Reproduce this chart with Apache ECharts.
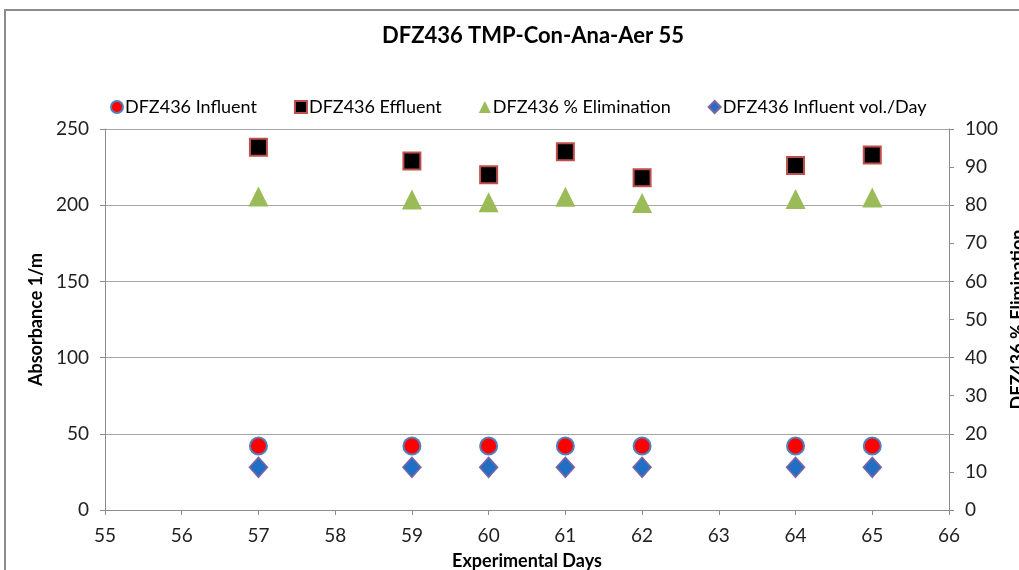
<!DOCTYPE html>
<html>
<head>
<meta charset="utf-8">
<script src="https://cdn.jsdelivr.net/npm/echarts@6.0.0/dist/echarts.min.js"></script>
<style>
  html, body { margin: 0; padding: 0; background: #fff; }
  #chart { width: 1019px; height: 570px; }
</style>
</head>
<body>
<div id="chart"></div>
<script>
(function () {
  'use strict';

  // Experimental days (x values)
  var days = [57, 59, 60, 61, 62, 64, 65];
  // Absorbance 1/m (left axis)
  var influent = [42, 42, 42, 42, 42, 42, 42];
  var effluent = [238, 229, 220, 235, 218, 226, 233];
  var influentVol = [28, 28, 28, 28, 28, 28, 28];
  // % Elimination (right axis)
  var elimination = [82.3, 81.5, 80.8, 82.2, 80.6, 81.6, 82.0];

  var names = ['DFZ436 Influent', 'DFZ436 Effluent', 'DFZ436 % Elimination', 'DFZ436 Influent vol./Day'];

  function pairs(vals) {
    return days.map(function (d, i) { return [d, vals[i]]; });
  }

  var font = 'Lato, "Open Sans", sans-serif';
  var chart = echarts.init(document.getElementById('chart'));

  var option = {
    backgroundColor: '#fff',
    animation: false,
    title: {
      text: 'DFZ436 TMP-Con-Ana-Aer 55',
      left: 528,
      top: 20,
      textAlign: 'center',
      textStyle: { fontFamily: font, fontSize: 22, fontWeight: 'bold', color: '#000' }
    },
    // Excel-style chart border, cropped by the picture
    graphic: [{
      type: 'rect',
      shape: { x: 5, y: 10, width: 1100, height: 700 },
      style: { fill: 'none', stroke: '#8c8c8c', lineWidth: 2 },
      silent: true
    }],
    legend: {
      top: 93,
      left: 105,
      itemGap: 37,
      itemWidth: 12,
      itemHeight: 12,
      textStyle: { fontFamily: font, fontSize: 18, color: '#000', padding: [0, 0, 0, -3] },
      data: names
    },
    grid: { left: 105, right: 70, top: 129, bottom: 60, outerBoundsMode: 'none' },
    xAxis: {
      type: 'value',
      min: 55,
      max: 66,
      interval: 1,
      name: 'Experimental Days',
      nameLocation: 'middle',
      nameGap: 42,
      nameTextStyle: { fontFamily: font, fontSize: 18, fontWeight: 'bold', color: '#000' },
      axisLine: { show: true, lineStyle: { color: '#8c8c8c' } },
      axisTick: { show: true, length: 5, lineStyle: { color: '#8c8c8c' } },
      axisLabel: { fontFamily: font, fontSize: 19, color: '#222', margin: 16 },
      splitLine: { show: false }
    },
    yAxis: [{
      type: 'value',
      min: 0,
      max: 250,
      interval: 50,
      name: 'Absorbance 1/m',
      nameLocation: 'middle',
      nameGap: 56,
      nameTextStyle: { fontFamily: font, fontSize: 18, fontWeight: 'bold', color: '#000' },
      axisLine: { show: true, lineStyle: { color: '#8c8c8c' } },
      axisTick: { show: true, length: 5, lineStyle: { color: '#8c8c8c' } },
      axisLabel: { fontFamily: font, fontSize: 19, color: '#222', margin: 16 },
      splitLine: { lineStyle: { color: '#a6a6a6', width: 1 } }
    }, {
      type: 'value',
      min: 0,
      max: 100,
      interval: 10,
      name: 'DFZ436 % Elimination',
      nameLocation: 'middle',
      nameGap: 60,
      nameRotate: 90,
      nameTextStyle: { fontFamily: font, fontSize: 18, fontWeight: 'bold', color: '#000' },
      axisLine: { show: true, lineStyle: { color: '#8c8c8c' } },
      axisTick: { show: true, length: 5, lineStyle: { color: '#8c8c8c' } },
      axisLabel: { fontFamily: font, fontSize: 19, color: '#222', margin: 16 },
      splitLine: { show: false }
    }],
    series: [{
      name: names[0],
      type: 'scatter',
      symbol: 'circle',
      symbolSize: 17,
      itemStyle: { color: '#ff0000', borderColor: '#4f81bd', borderWidth: 2, opacity: 1 },
      data: pairs(influent)
    }, {
      name: names[1],
      type: 'scatter',
      symbol: 'rect',
      symbolSize: 17,
      itemStyle: { color: '#000', borderColor: '#c0504d', borderWidth: 2, opacity: 1 },
      data: pairs(effluent)
    }, {
      name: names[2],
      type: 'scatter',
      yAxisIndex: 1,
      symbol: 'triangle',
      symbolSize: [20, 20],
      itemStyle: { color: '#9bbb59', opacity: 1 },
      data: pairs(elimination)
    }, {
      name: names[3],
      type: 'scatter',
      symbol: 'diamond',
      symbolSize: [18, 20],
      itemStyle: { color: '#1f6fc5', borderColor: '#8064a2', borderWidth: 1.5, opacity: 1 },
      data: pairs(influentVol)
    }]
  };

  chart.setOption(option);
})();
</script>
</body>
</html>
